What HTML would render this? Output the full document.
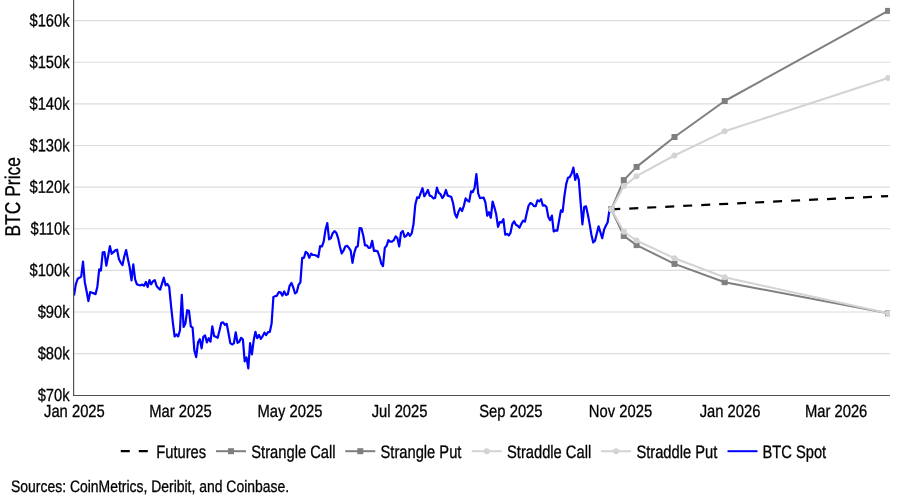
<!DOCTYPE html>
<html lang="en"><head><meta charset="utf-8"><title>BTC Price</title>
<style>
html,body{margin:0;padding:0;background:#fff;}
body{width:900px;height:500px;overflow:hidden;}
svg{display:block;}
text{font-family:"Liberation Sans", sans-serif;font-size:18px;fill:#000;stroke:#000;stroke-width:0.3px;text-rendering:geometricPrecision;}
</style></head><body>
<svg width="900" height="500" viewBox="0 0 900 500">
<rect width="900" height="500" fill="#fff"/>
<g stroke="#dcdcdc" stroke-width="1.1" fill="none">
<line x1="73.5" x2="890.0" y1="353.58" y2="353.58"/>
<line x1="73.5" x2="890.0" y1="311.96" y2="311.96"/>
<line x1="73.5" x2="890.0" y1="270.34" y2="270.34"/>
<line x1="73.5" x2="890.0" y1="228.72" y2="228.72"/>
<line x1="73.5" x2="890.0" y1="187.10" y2="187.10"/>
<line x1="73.5" x2="890.0" y1="145.48" y2="145.48"/>
<line x1="73.5" x2="890.0" y1="103.86" y2="103.86"/>
<line x1="73.5" x2="890.0" y1="62.24" y2="62.24"/>
<line x1="73.5" x2="890.0" y1="20.62" y2="20.62"/>
</g>
<text transform="translate(69.5,401.0) rotate(0.1) scale(0.835,1)" text-anchor="end" style="font-size:17.6px">$70k</text>
<text transform="translate(69.5,359.38) rotate(0.1) scale(0.835,1)" text-anchor="end" style="font-size:17.6px">$80k</text>
<text transform="translate(69.5,317.76) rotate(0.1) scale(0.835,1)" text-anchor="end" style="font-size:17.6px">$90k</text>
<text transform="translate(69.5,276.14) rotate(0.1) scale(0.835,1)" text-anchor="end" style="font-size:17.6px">$100k</text>
<text transform="translate(69.5,234.52) rotate(0.1) scale(0.835,1)" text-anchor="end" style="font-size:17.6px">$110k</text>
<text transform="translate(69.5,192.9) rotate(0.1) scale(0.835,1)" text-anchor="end" style="font-size:17.6px">$120k</text>
<text transform="translate(69.5,151.28) rotate(0.1) scale(0.835,1)" text-anchor="end" style="font-size:17.6px">$130k</text>
<text transform="translate(69.5,109.66) rotate(0.1) scale(0.835,1)" text-anchor="end" style="font-size:17.6px">$140k</text>
<text transform="translate(69.5,68.04) rotate(0.1) scale(0.835,1)" text-anchor="end" style="font-size:17.6px">$150k</text>
<text transform="translate(69.5,26.42) rotate(0.1) scale(0.835,1)" text-anchor="end" style="font-size:17.6px">$160k</text>
<text transform="translate(74.4,416.5) scale(0.84,1)" text-anchor="middle" style="font-size:17.6px">Jan 2025</text>
<text transform="translate(180.4,416.5) scale(0.84,1)" text-anchor="middle" style="font-size:17.6px">Mar 2025</text>
<text transform="translate(290.0,416.5) scale(0.84,1)" text-anchor="middle" style="font-size:17.6px">May 2025</text>
<text transform="translate(399.6,416.5) scale(0.84,1)" text-anchor="middle" style="font-size:17.6px">Jul 2025</text>
<text transform="translate(510.9,416.5) scale(0.84,1)" text-anchor="middle" style="font-size:17.6px">Sep 2025</text>
<text transform="translate(620.5,416.5) scale(0.84,1)" text-anchor="middle" style="font-size:17.6px">Nov 2025</text>
<text transform="translate(730.1,416.5) scale(0.84,1)" text-anchor="middle" style="font-size:17.6px">Jan 2026</text>
<text transform="translate(836.1,416.5) scale(0.84,1)" text-anchor="middle" style="font-size:17.6px">Mar 2026</text>
<text transform="translate(20,196.8) rotate(-90) scale(0.815,1)" text-anchor="middle" style="font-size:21.4px">BTC Price</text>
<clipPath id="plotclip"><rect x="73" y="0" width="817" height="396"/></clipPath><g clip-path="url(#plotclip)">
<line x1="611.3" y1="209.4" x2="888.1" y2="196.1" stroke="#000" stroke-width="2.2" stroke-dasharray="9,9"/>
<path d="M611.3,209.4 L623.8,180.1 L636.6,166.9 L674.5,137.0 L724.7,101.0 L888.1,10.9" fill="none" stroke="#7f7f7f" stroke-width="2" stroke-linejoin="round" />
<rect x="608.3" y="206.4" width="6" height="6" fill="#7f7f7f"/>
<rect x="620.8" y="177.1" width="6" height="6" fill="#7f7f7f"/>
<rect x="633.6" y="163.9" width="6" height="6" fill="#7f7f7f"/>
<rect x="671.5" y="134.0" width="6" height="6" fill="#7f7f7f"/>
<rect x="721.7" y="98.0" width="6" height="6" fill="#7f7f7f"/>
<rect x="885.1" y="7.9" width="6" height="6" fill="#7f7f7f"/>
<path d="M611.3,209.4 L623.8,235.9 L636.6,245.1 L674.5,263.9 L724.7,282.2 L888.1,313.3" fill="none" stroke="#7f7f7f" stroke-width="2" stroke-linejoin="round" />
<rect x="608.3" y="206.4" width="6" height="6" fill="#7f7f7f"/>
<rect x="620.8" y="232.9" width="6" height="6" fill="#7f7f7f"/>
<rect x="633.6" y="242.1" width="6" height="6" fill="#7f7f7f"/>
<rect x="671.5" y="260.9" width="6" height="6" fill="#7f7f7f"/>
<rect x="721.7" y="279.2" width="6" height="6" fill="#7f7f7f"/>
<rect x="885.1" y="310.3" width="6" height="6" fill="#7f7f7f"/>
<path d="M74.0,295.5 L75.8,284.3 L77.6,279.0 L79.4,277.7 L81.2,276.6 L83.0,261.6 L84.8,282.2 L86.6,291.3 L88.4,301.1 L90.2,292.0 L92.0,292.7 L93.8,293.4 L95.6,294.1 L97.4,286.4 L99.2,269.3 L100.9,270.6 L102.7,252.4 L104.5,252.1 L106.3,265.7 L108.1,256.3 L109.9,246.2 L111.7,253.8 L113.5,252.1 L115.3,250.4 L117.1,249.7 L118.9,259.1 L120.7,262.6 L122.5,265.0 L124.3,256.3 L126.1,250.0 L127.9,259.1 L129.7,267.5 L131.5,280.4 L133.3,264.4 L135.1,279.4 L136.9,284.3 L138.7,285.0 L140.5,285.3 L142.3,284.6 L144.1,285.7 L145.9,281.9 L147.7,287.1 L149.5,280.1 L151.2,284.3 L153.0,281.2 L154.8,280.1 L156.6,286.0 L158.4,288.1 L160.2,289.6 L162.0,283.6 L163.8,277.7 L165.6,285.3 L167.4,284.0 L169.2,286.8 L171.0,305.3 L172.8,322.1 L174.6,336.4 L176.4,334.4 L178.2,336.4 L180.0,330.2 L181.8,294.8 L183.6,327.0 L185.4,323.5 L187.2,310.2 L189.0,310.9 L190.8,326.3 L192.6,327.7 L194.4,350.8 L196.2,357.1 L198.0,342.4 L199.8,339.2 L201.6,348.3 L203.3,336.8 L205.1,335.4 L206.9,342.4 L208.7,338.2 L210.5,341.7 L212.3,326.3 L214.1,336.1 L215.9,336.8 L217.7,337.8 L219.5,330.5 L221.3,322.8 L223.1,322.4 L224.9,324.9 L226.7,323.8 L228.5,333.3 L230.3,343.1 L232.1,344.5 L233.9,343.4 L235.7,332.3 L237.5,342.8 L239.3,341.7 L241.1,337.8 L242.9,339.6 L244.7,361.3 L246.5,357.4 L248.3,368.3 L250.1,343.1 L251.9,354.3 L253.7,340.3 L255.4,331.9 L257.2,338.2 L259.0,335.0 L260.8,338.9 L262.6,336.4 L264.4,332.6 L266.2,335.0 L268.0,332.2 L269.8,331.9 L271.6,323.5 L273.4,297.0 L275.2,296.3 L277.0,295.6 L278.8,292.1 L280.6,292.4 L282.4,295.6 L284.2,291.4 L286.0,294.9 L287.8,294.2 L289.6,285.8 L291.4,283.0 L293.2,287.2 L295.0,293.5 L296.8,292.1 L298.6,284.8 L300.4,282.3 L302.2,257.8 L304.0,257.8 L305.7,251.8 L307.5,253.2 L309.3,257.8 L311.1,253.6 L312.9,255.0 L314.7,255.0 L316.5,255.7 L318.3,257.1 L320.1,246.2 L321.9,246.5 L323.7,241.6 L325.5,229.7 L327.3,223.1 L329.1,239.5 L330.9,238.1 L332.7,233.2 L334.5,231.1 L336.3,232.8 L338.1,238.1 L339.9,246.5 L341.7,253.5 L343.5,250.7 L345.3,246.5 L347.1,245.8 L348.9,247.9 L350.7,250.7 L352.5,262.9 L354.3,252.8 L356.1,247.2 L357.8,246.2 L359.6,228.0 L361.4,228.3 L363.2,235.3 L365.0,245.4 L366.8,245.4 L368.6,247.9 L370.4,247.6 L372.2,240.9 L374.0,251.0 L375.8,250.7 L377.6,251.4 L379.4,256.3 L381.2,263.3 L383.0,266.1 L384.8,247.9 L386.6,245.8 L388.4,240.2 L390.2,241.6 L392.0,241.6 L393.8,240.2 L395.6,236.4 L397.4,238.1 L399.2,246.5 L401.0,232.7 L402.8,231.0 L404.6,236.9 L406.4,235.8 L408.1,233.0 L409.9,235.8 L411.7,233.4 L413.5,224.3 L415.3,204.7 L417.1,197.4 L418.9,198.0 L420.7,192.8 L422.5,188.2 L424.3,196.3 L426.1,193.5 L427.9,190.0 L429.7,195.6 L431.5,196.3 L433.3,198.4 L435.1,198.0 L436.9,187.6 L438.7,192.8 L440.5,194.2 L442.3,198.0 L444.1,195.6 L445.9,190.0 L447.7,195.6 L449.5,196.3 L451.3,197.0 L453.1,203.3 L454.9,213.8 L456.7,217.6 L458.5,211.7 L460.2,208.2 L462.0,211.0 L463.8,206.1 L465.6,198.4 L467.4,200.5 L469.2,201.6 L471.0,191.4 L472.8,192.1 L474.6,187.9 L476.4,174.0 L478.2,193.3 L480.0,198.2 L481.8,197.8 L483.6,197.5 L485.4,202.4 L487.2,215.7 L489.0,212.2 L490.8,217.8 L492.6,201.7 L494.4,207.3 L496.2,214.3 L498.0,226.9 L499.8,222.0 L501.6,222.4 L503.4,219.2 L505.2,234.7 L507.0,233.9 L508.8,235.5 L510.5,232.8 L512.3,224.1 L514.1,221.3 L515.9,224.8 L517.7,225.8 L519.5,227.6 L521.3,223.8 L523.1,220.6 L524.9,221.6 L526.7,213.6 L528.5,205.9 L530.3,203.1 L532.1,203.8 L533.9,206.2 L535.7,206.2 L537.5,200.3 L539.3,201.4 L541.1,199.2 L542.9,205.6 L544.7,205.2 L546.5,207.0 L548.3,217.0 L550.1,220.2 L551.9,215.6 L553.7,231.5 L555.5,230.3 L557.3,230.6 L559.1,220.5 L560.9,210.4 L562.6,211.8 L564.4,196.1 L566.2,184.1 L568.0,177.8 L569.8,177.1 L571.6,173.6 L573.4,167.6 L575.2,179.9 L577.0,174.0 L578.8,179.9 L580.6,202.3 L582.4,224.5 L584.2,207.1 L586.0,206.3 L587.8,214.3 L589.6,223.9 L591.4,234.7 L593.2,242.5 L595.0,240.7 L596.8,233.5 L598.6,226.3 L600.4,232.3 L602.2,238.3 L604.0,229.9 L605.8,225.7 L607.6,222.5 L609.4,210.3 L611.3,209.4" fill="none" stroke="#0000ff" stroke-width="2.2" stroke-linejoin="round" />
<path d="M611.3,209.4 L623.9,186.1 L636.5,176.2 L674.4,155.5 L724.6,131.3 L888.1,78.0" fill="none" stroke="#d3d3d3" stroke-width="2" stroke-linejoin="round" />
<circle cx="611.3" cy="209.4" r="3" fill="#d3d3d3"/>
<circle cx="623.9" cy="186.1" r="3" fill="#d3d3d3"/>
<circle cx="636.5" cy="176.2" r="3" fill="#d3d3d3"/>
<circle cx="674.4" cy="155.5" r="3" fill="#d3d3d3"/>
<circle cx="724.6" cy="131.3" r="3" fill="#d3d3d3"/>
<circle cx="888.1" cy="78.0" r="3" fill="#d3d3d3"/>
<path d="M611.3,209.4 L623.9,231.7 L636.5,240.5 L674.4,258.2 L724.6,277.2 L888.1,313.3" fill="none" stroke="#d3d3d3" stroke-width="2" stroke-linejoin="round" />
<circle cx="611.3" cy="209.4" r="3" fill="#d3d3d3"/>
<circle cx="623.9" cy="231.7" r="3" fill="#d3d3d3"/>
<circle cx="636.5" cy="240.5" r="3" fill="#d3d3d3"/>
<circle cx="674.4" cy="258.2" r="3" fill="#d3d3d3"/>
<circle cx="724.6" cy="277.2" r="3" fill="#d3d3d3"/>
<circle cx="888.1" cy="313.3" r="3" fill="#d3d3d3"/>
</g>
<line x1="73.6" x2="73.6" y1="0" y2="395.9" stroke="#555" stroke-width="1.2"/>
<line x1="73" x2="890.0" y1="395.4" y2="395.4" stroke="#505050" stroke-width="1.05"/>
<line x1="120.8" x2="150.8" y1="451.2" y2="451.2" stroke="#000" stroke-width="2.2" stroke-dasharray="9,9"/>
<text transform="translate(156.3,458) scale(0.817,1)" text-anchor="start" style="font-size:18px">Futures</text>
<line x1="216" x2="246" y1="451.2" y2="451.2" stroke="#7f7f7f" stroke-width="2"/>
<rect x="228.0" y="448.2" width="6" height="6" fill="#7f7f7f"/>
<text transform="translate(251.3,458) scale(0.817,1)" text-anchor="start" style="font-size:18px">Strangle Call</text>
<line x1="345.3" x2="375.3" y1="451.2" y2="451.2" stroke="#7f7f7f" stroke-width="2"/>
<rect x="357.3" y="448.2" width="6" height="6" fill="#7f7f7f"/>
<text transform="translate(380.5,458) scale(0.817,1)" text-anchor="start" style="font-size:18px">Strangle Put</text>
<line x1="471.7" x2="501.7" y1="451.2" y2="451.2" stroke="#d3d3d3" stroke-width="2"/>
<circle cx="486.7" cy="451.2" r="3" fill="#d3d3d3"/>
<text transform="translate(507,458) scale(0.817,1)" text-anchor="start" style="font-size:18px">Straddle Call</text>
<line x1="601" x2="631" y1="451.2" y2="451.2" stroke="#d3d3d3" stroke-width="2"/>
<circle cx="616.0" cy="451.2" r="3" fill="#d3d3d3"/>
<text transform="translate(636.4,458) scale(0.817,1)" text-anchor="start" style="font-size:18px">Straddle Put</text>
<line x1="727.5" x2="757.5" y1="451.2" y2="451.2" stroke="#0000ff" stroke-width="2"/>
<text transform="translate(762.4,458) scale(0.817,1)" text-anchor="start" style="font-size:18px">BTC Spot</text>
<text transform="translate(11,492.3) scale(0.84,1)" text-anchor="start" style="font-size:16.6px">Sources: CoinMetrics, Deribit, and Coinbase.</text>
</svg></body></html>
